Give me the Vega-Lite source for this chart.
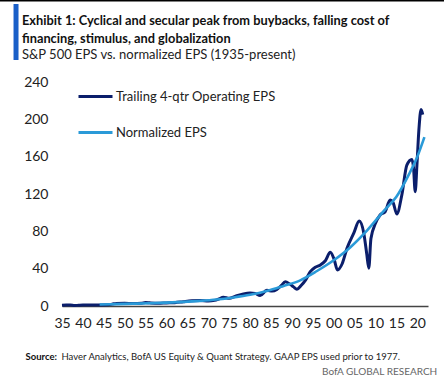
{
  "$schema": "https://vega.github.io/schema/vega-lite/v6.json",
  "width": 366,
  "height": 224,
  "autosize": {"type": "none"},
  "padding": {"left": 62, "top": 82, "right": 16, "bottom": 77},
  "background": "white",
  "config": {"font": "Lato", "view": {"stroke": null}},
  "title": {
    "text": ["Exhibit 1: Cyclical and secular peak from buybacks, falling cost of", "financing, stimulus, and globalization"],
    "subtitle": "S&P 500 EPS vs. normalized EPS (1935-present)",
    "anchor": "start",
    "frame": "group",
    "dx": -40,
    "offset": -62,
    "font": "Lato",
    "fontSize": 12.8,
    "fontWeight": "bold",
    "color": "#111111",
    "lineHeight": 18,
    "subtitleFont": "Lato",
    "subtitleFontSize": 13,
    "subtitleFontWeight": "normal",
    "subtitleColor": "#222222",
    "subtitlePadding": 3
  },
  "datasets": {
    "eps": [
      {"series": "Trailing 4-qtr Operating EPS", "year": 1935, "value": 0.9},
      {"series": "Trailing 4-qtr Operating EPS", "year": 1936, "value": 1.1},
      {"series": "Trailing 4-qtr Operating EPS", "year": 1937, "value": 1.1},
      {"series": "Trailing 4-qtr Operating EPS", "year": 1938, "value": 0.5},
      {"series": "Trailing 4-qtr Operating EPS", "year": 1939, "value": 0.8},
      {"series": "Trailing 4-qtr Operating EPS", "year": 1940, "value": 1.0},
      {"series": "Trailing 4-qtr Operating EPS", "year": 1942, "value": 1.0},
      {"series": "Trailing 4-qtr Operating EPS", "year": 1944, "value": 1.1},
      {"series": "Trailing 4-qtr Operating EPS", "year": 1946, "value": 1.3},
      {"series": "Trailing 4-qtr Operating EPS", "year": 1947, "value": 2.0},
      {"series": "Trailing 4-qtr Operating EPS", "year": 1948, "value": 2.8},
      {"series": "Trailing 4-qtr Operating EPS", "year": 1950, "value": 3.0},
      {"series": "Trailing 4-qtr Operating EPS", "year": 1952, "value": 2.6},
      {"series": "Trailing 4-qtr Operating EPS", "year": 1954, "value": 2.9},
      {"series": "Trailing 4-qtr Operating EPS", "year": 1955, "value": 3.8},
      {"series": "Trailing 4-qtr Operating EPS", "year": 1956, "value": 3.4},
      {"series": "Trailing 4-qtr Operating EPS", "year": 1958, "value": 2.9},
      {"series": "Trailing 4-qtr Operating EPS", "year": 1960, "value": 3.3},
      {"series": "Trailing 4-qtr Operating EPS", "year": 1962, "value": 3.6},
      {"series": "Trailing 4-qtr Operating EPS", "year": 1964, "value": 4.6},
      {"series": "Trailing 4-qtr Operating EPS", "year": 1966, "value": 5.5},
      {"series": "Trailing 4-qtr Operating EPS", "year": 1968, "value": 5.8},
      {"series": "Trailing 4-qtr Operating EPS", "year": 1970, "value": 5.3},
      {"series": "Trailing 4-qtr Operating EPS", "year": 1971.5, "value": 6.0},
      {"series": "Trailing 4-qtr Operating EPS", "year": 1972.5, "value": 7.5},
      {"series": "Trailing 4-qtr Operating EPS", "year": 1973.6, "value": 9.5},
      {"series": "Trailing 4-qtr Operating EPS", "year": 1975, "value": 8.2},
      {"series": "Trailing 4-qtr Operating EPS", "year": 1976.5, "value": 10.5},
      {"series": "Trailing 4-qtr Operating EPS", "year": 1978.4, "value": 13.0},
      {"series": "Trailing 4-qtr Operating EPS", "year": 1980, "value": 14.0},
      {"series": "Trailing 4-qtr Operating EPS", "year": 1981.2, "value": 13.5},
      {"series": "Trailing 4-qtr Operating EPS", "year": 1982.4, "value": 11.2},
      {"series": "Trailing 4-qtr Operating EPS", "year": 1984, "value": 16.8},
      {"series": "Trailing 4-qtr Operating EPS", "year": 1985.3, "value": 16.0},
      {"series": "Trailing 4-qtr Operating EPS", "year": 1986.4, "value": 17.8},
      {"series": "Trailing 4-qtr Operating EPS", "year": 1987.5, "value": 22.0},
      {"series": "Trailing 4-qtr Operating EPS", "year": 1988.4, "value": 26.0},
      {"series": "Trailing 4-qtr Operating EPS", "year": 1989.5, "value": 23.5},
      {"series": "Trailing 4-qtr Operating EPS", "year": 1990.4, "value": 20.5},
      {"series": "Trailing 4-qtr Operating EPS", "year": 1991.2, "value": 18.0},
      {"series": "Trailing 4-qtr Operating EPS", "year": 1992.2, "value": 22.0},
      {"series": "Trailing 4-qtr Operating EPS", "year": 1993.3, "value": 28.0},
      {"series": "Trailing 4-qtr Operating EPS", "year": 1994.4, "value": 36.8},
      {"series": "Trailing 4-qtr Operating EPS", "year": 1995.6, "value": 41.5},
      {"series": "Trailing 4-qtr Operating EPS", "year": 1996.8, "value": 44.0},
      {"series": "Trailing 4-qtr Operating EPS", "year": 1998.0, "value": 48.5},
      {"series": "Trailing 4-qtr Operating EPS", "year": 1999.2, "value": 57.5},
      {"series": "Trailing 4-qtr Operating EPS", "year": 2000.1, "value": 50.0},
      {"series": "Trailing 4-qtr Operating EPS", "year": 2000.9, "value": 38.6},
      {"series": "Trailing 4-qtr Operating EPS", "year": 2002.0, "value": 45.0},
      {"series": "Trailing 4-qtr Operating EPS", "year": 2003.2, "value": 62.0},
      {"series": "Trailing 4-qtr Operating EPS", "year": 2004.8, "value": 78.0},
      {"series": "Trailing 4-qtr Operating EPS", "year": 2006.1, "value": 91.0},
      {"series": "Trailing 4-qtr Operating EPS", "year": 2007.2, "value": 78.0},
      {"series": "Trailing 4-qtr Operating EPS", "year": 2007.9, "value": 56.0},
      {"series": "Trailing 4-qtr Operating EPS", "year": 2008.4, "value": 40.5},
      {"series": "Trailing 4-qtr Operating EPS", "year": 2008.9, "value": 72.0},
      {"series": "Trailing 4-qtr Operating EPS", "year": 2010.0, "value": 88.6},
      {"series": "Trailing 4-qtr Operating EPS", "year": 2011.1, "value": 97.5},
      {"series": "Trailing 4-qtr Operating EPS", "year": 2012.3, "value": 101.0},
      {"series": "Trailing 4-qtr Operating EPS", "year": 2013.5, "value": 113.6},
      {"series": "Trailing 4-qtr Operating EPS", "year": 2014.2, "value": 111.0},
      {"series": "Trailing 4-qtr Operating EPS", "year": 2015.1, "value": 98.6},
      {"series": "Trailing 4-qtr Operating EPS", "year": 2016.3, "value": 119.0},
      {"series": "Trailing 4-qtr Operating EPS", "year": 2017.5, "value": 151.0},
      {"series": "Trailing 4-qtr Operating EPS", "year": 2018.7, "value": 157.0},
      {"series": "Trailing 4-qtr Operating EPS", "year": 2019.1, "value": 148.0},
      {"series": "Trailing 4-qtr Operating EPS", "year": 2019.5, "value": 122.5},
      {"series": "Trailing 4-qtr Operating EPS", "year": 2019.9, "value": 150.0},
      {"series": "Trailing 4-qtr Operating EPS", "year": 2020.4, "value": 190.0},
      {"series": "Trailing 4-qtr Operating EPS", "year": 2020.9, "value": 210.5},
      {"series": "Trailing 4-qtr Operating EPS", "year": 2021.3, "value": 205.0},
      {"series": "Normalized EPS", "year": 1944, "value": 1.6},
      {"series": "Normalized EPS", "year": 1948, "value": 2.0},
      {"series": "Normalized EPS", "year": 1952, "value": 2.5},
      {"series": "Normalized EPS", "year": 1956, "value": 3.0},
      {"series": "Normalized EPS", "year": 1960, "value": 3.6},
      {"series": "Normalized EPS", "year": 1964, "value": 4.4},
      {"series": "Normalized EPS", "year": 1968, "value": 5.5},
      {"series": "Normalized EPS", "year": 1972, "value": 7.0},
      {"series": "Normalized EPS", "year": 1976, "value": 9.2},
      {"series": "Normalized EPS", "year": 1980, "value": 12.0},
      {"series": "Normalized EPS", "year": 1984, "value": 16.0},
      {"series": "Normalized EPS", "year": 1988, "value": 21.5},
      {"series": "Normalized EPS", "year": 1992, "value": 27.5},
      {"series": "Normalized EPS", "year": 1996, "value": 37.5},
      {"series": "Normalized EPS", "year": 2000, "value": 49.0},
      {"series": "Normalized EPS", "year": 2004, "value": 63.0},
      {"series": "Normalized EPS", "year": 2008, "value": 81.0},
      {"series": "Normalized EPS", "year": 2012, "value": 102.0},
      {"series": "Normalized EPS", "year": 2015, "value": 117.0},
      {"series": "Normalized EPS", "year": 2018, "value": 141.0},
      {"series": "Normalized EPS", "year": 2020, "value": 160.0},
      {"series": "Normalized EPS", "year": 2021.7, "value": 181.0}
    ]
  },
  "data": {"name": "eps"},
  "layer": [
    {
      "data": {"values": [{"part": "top rule"}]},
      "mark": {"type": "rule", "color": "#000000", "strokeWidth": 1.5},
      "encoding": {
        "x": {"datum": 1920.1, "type": "quantitative", "axis": null},
        "x2": {"datum": 2026.5},
        "y": {"datum": 327.1, "type": "quantitative", "axis": null}
      }
    },
    {
      "data": {"values": [{"part": "title bar"}]},
      "mark": {"type": "rule", "color": "#1a5fc8", "strokeWidth": 5},
      "encoding": {
        "x": {"datum": 1924.0, "type": "quantitative", "axis": null},
        "y": {"datum": 323.6, "type": "quantitative", "axis": null},
        "y2": {"datum": 263.6}
      }
    },
    {
      "transform": [{"filter": "datum.series === 'Trailing 4-qtr Operating EPS'"}],
      "mark": {"type": "line", "interpolate": "monotone", "strokeWidth": 3},
      "encoding": {
        "x": {
          "field": "year", "type": "quantitative",
          "scale": {"domain": [1935, 2022.56], "nice": false, "zero": false},
          "axis": {
            "orient": "bottom",
            "values": [1935, 1940, 1945, 1950, 1955, 1960, 1965, 1970, 1975, 1980, 1985, 1990, 1995, 2000, 2005, 2010, 2015, 2020],
            "labelExpr": "substring(toString(datum.value), 2)",
            "ticks": false, "tickSize": 0, "grid": false,
            "domainColor": "#444444", "domainWidth": 1.3,
            "labelFont": "Lato", "labelFontSize": 14, "labelColor": "#222222",
            "labelPadding": 10, "labelFlush": false, "labelOverlap": false,
            "title": "Source:", "titleFont": "Lato", "titleFontWeight": "bold", "titleFontSize": 9.5,
            "titleColor": "#111111", "titleX": -37, "titleY": 53, "titleAlign": "left", "titleBaseline": "alphabetic", "titleAnchor": "start"
          }
        },
        "y": {
          "field": "value", "type": "quantitative",
          "scale": {"domain": [0, 240], "nice": false},
          "axis": {
            "values": [0, 40, 80, 120, 160, 200, 240],
            "ticks": false, "tickSize": 0, "grid": false, "domain": false,
            "labelFont": "Lato", "labelFontSize": 14, "labelColor": "#222222", "labelPadding": 14,
            "title": "BofA GLOBAL RESEARCH", "titleFont": "Lato", "titleFontWeight": "normal", "titleFontSize": 10,
            "titleColor": "#666666", "titleAngle": 0, "titleX": 374.7, "titleY": 292.3, "titleAlign": "right", "titleBaseline": "alphabetic"
          }
        },
        "color": {
          "field": "series", "type": "nominal",
          "scale": {"domain": ["Trailing 4-qtr Operating EPS", "Normalized EPS"], "range": ["#0b1e6b", "#2a9ad8"]},
          "legend": {
            "orient": "none", "legendX": 15, "legendY": -4, "title": null,
            "symbolType": "stroke", "symbolSize": 1156, "symbolStrokeWidth": 3,
            "labelFont": "Lato", "labelFontSize": 13, "labelColor": "#222222", "labelOffset": 2, "rowPadding": 10, "labelLimit": 400
          }
        }
      }
    },
    {
      "transform": [{"filter": "datum.series === 'Normalized EPS'"}],
      "mark": {"type": "line", "interpolate": "monotone", "strokeWidth": 2.6},
      "encoding": {
        "x": {
          "field": "year", "type": "quantitative",
          "scale": {"domain": [1935, 2022.56], "nice": false, "zero": false},
          "axis": {
            "orient": "bottom", "labels": false, "ticks": false, "tickSize": 0, "grid": false, "domain": false,
            "title": "Haver Analytics, BofA US Equity & Quant Strategy. GAAP EPS used prior to 1977.",
            "titleFont": "Lato", "titleFontWeight": "normal", "titleFontSize": 9.5,
            "titleColor": "#222222", "titleX": -1, "titleY": 53, "titleAlign": "left", "titleBaseline": "alphabetic", "titleAnchor": "start"
          }
        },
        "y": {
          "field": "value", "type": "quantitative",
          "scale": {"domain": [0, 240], "nice": false},
          "axis": null
        },
        "color": {
          "field": "series", "type": "nominal",
          "scale": {"domain": ["Trailing 4-qtr Operating EPS", "Normalized EPS"], "range": ["#0b1e6b", "#2a9ad8"]},
          "legend": {
            "orient": "none", "legendX": 15, "legendY": -4, "title": null,
            "symbolType": "stroke", "symbolSize": 1156, "symbolStrokeWidth": 3,
            "labelFont": "Lato", "labelFontSize": 13, "labelColor": "#222222", "labelOffset": 2, "rowPadding": 10, "labelLimit": 400
          }
        }
      }
    }
  ],
  "resolve": {"axis": {"x": "independent", "y": "independent"}}
}
